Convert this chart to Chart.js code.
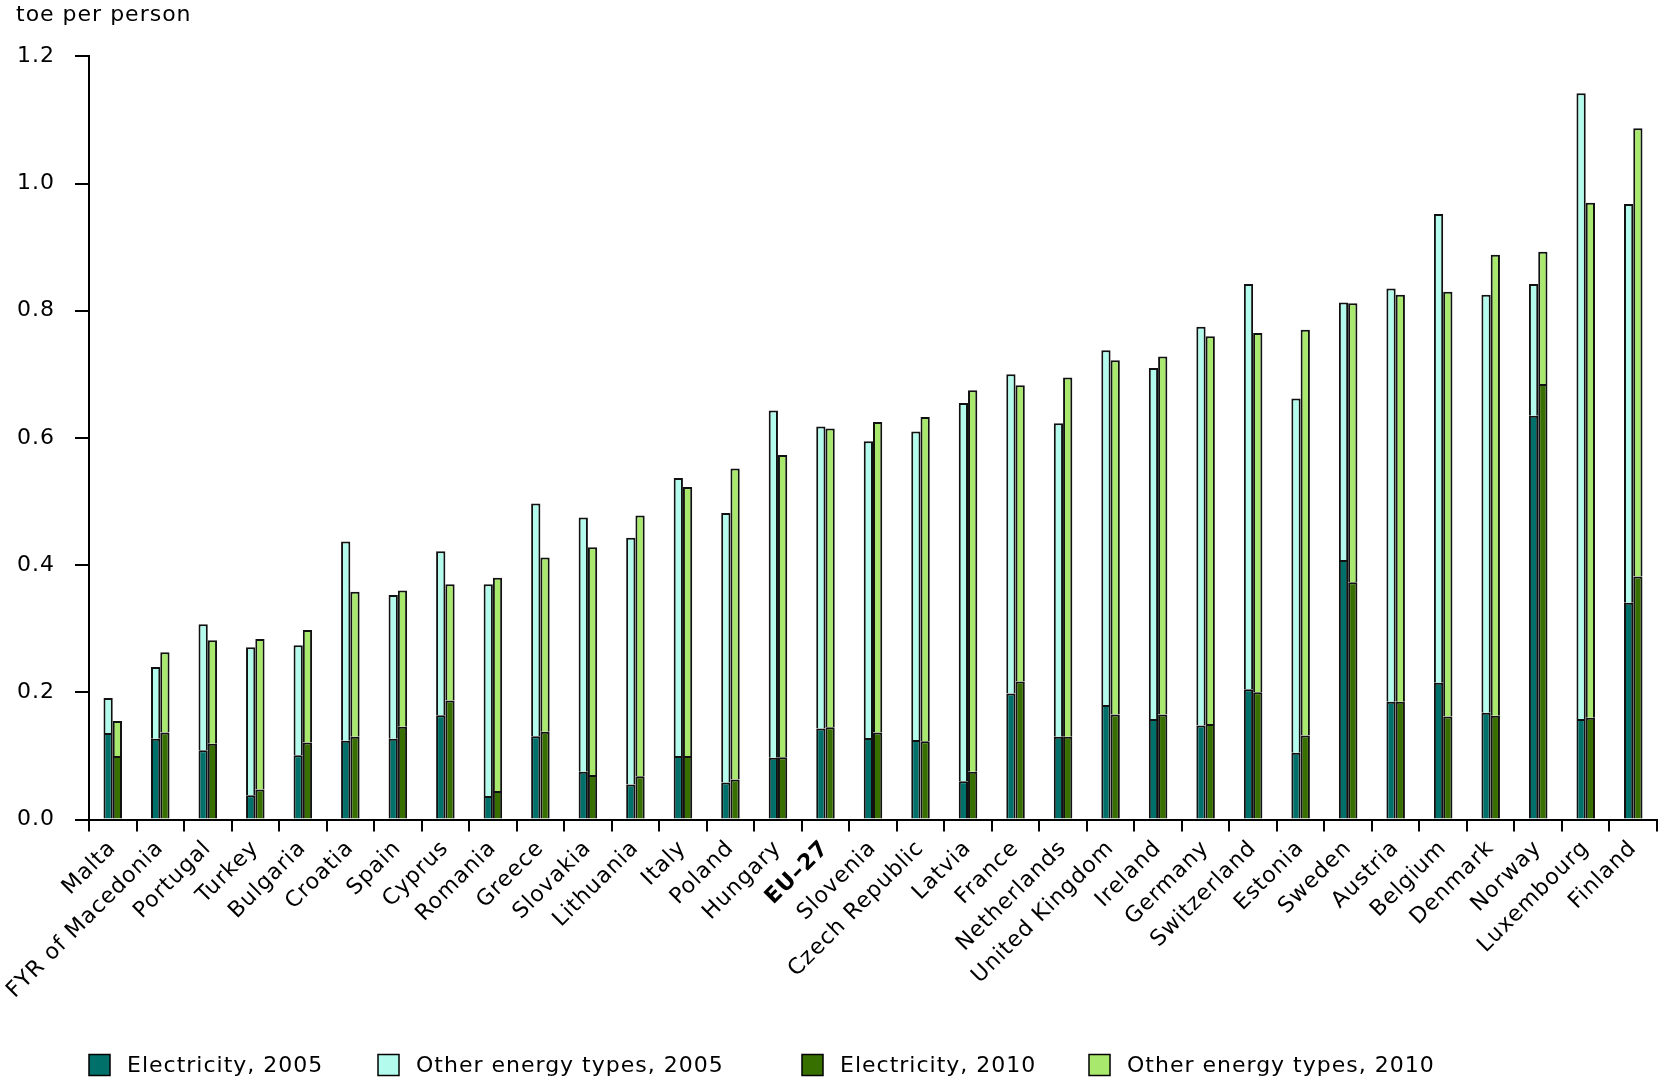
<!DOCTYPE html>
<html>
<head>
<meta charset="utf-8">
<title>Energy consumption per person</title>
<script src="https://cdn.jsdelivr.net/npm/chart.js@4.4.1/dist/chart.umd.min.js"></script>
<style>
  html, body { margin: 0; padding: 0; background: #fff; }
  #wrap { width: 1661px; height: 1080px; }
</style>
</head>
<body>
<div id="wrap"><canvas id="chart" width="1661" height="1080"></canvas></div>
<script>
// Values (toe per person)
const COUNTRIES = [
  'Malta', 'FYR of Macedonia', 'Portugal', 'Turkey', 'Bulgaria', 'Croatia', 'Spain',
  'Cyprus', 'Romania', 'Greece', 'Slovakia', 'Lithuania', 'Italy', 'Poland', 'Hungary',
  'EU\u201327', 'Slovenia', 'Czech Republic', 'Latvia', 'France', 'Netherlands',
  'United Kingdom', 'Ireland', 'Germany', 'Switzerland', 'Estonia', 'Sweden', 'Austria',
  'Belgium', 'Denmark', 'Norway', 'Luxembourg', 'Finland'
];

const ELECTRICITY_2005 = [
  0.136, 0.127, 0.109, 0.038, 0.101, 0.124, 0.127, 0.164, 0.037, 0.131, 0.075,
  0.055, 0.100, 0.058, 0.097, 0.143, 0.128, 0.125, 0.060, 0.198, 0.130, 0.180,
  0.158, 0.148, 0.205, 0.105, 0.408, 0.185, 0.215, 0.168, 0.635, 0.158, 0.341
];
const OTHER_2005 = [
  0.055, 0.113, 0.198, 0.233, 0.173, 0.313, 0.226, 0.258, 0.333, 0.366, 0.400,
  0.388, 0.437, 0.424, 0.546, 0.475, 0.467, 0.485, 0.595, 0.502, 0.493, 0.558,
  0.552, 0.627, 0.637, 0.557, 0.405, 0.650, 0.737, 0.657, 0.207, 0.984, 0.627
];
const ELECTRICITY_2010 = [
  0.100, 0.137, 0.119, 0.047, 0.121, 0.130, 0.146, 0.187, 0.045, 0.138, 0.070,
  0.068, 0.100, 0.063, 0.098, 0.145, 0.137, 0.123, 0.075, 0.217, 0.130, 0.165,
  0.165, 0.150, 0.200, 0.132, 0.373, 0.185, 0.162, 0.163, 0.685, 0.160, 0.382
];
const OTHER_2010 = [
  0.055, 0.126, 0.163, 0.237, 0.177, 0.228, 0.214, 0.183, 0.335, 0.274, 0.358,
  0.410, 0.423, 0.489, 0.475, 0.470, 0.488, 0.510, 0.600, 0.466, 0.565, 0.557,
  0.563, 0.610, 0.565, 0.638, 0.439, 0.640, 0.668, 0.725, 0.208, 0.810, 0.705
];

const FONT = '"DejaVu Sans", Verdana, sans-serif';
const BOLD_LABEL = 'EU\u201327';

// Canvas text in the reference is a touch wider than DejaVu Sans
const letterSpacing = {
  id: 'letterSpacing',
  beforeLayout(chart) { chart.ctx.letterSpacing = '1px'; },
  beforeDraw(chart) { chart.ctx.letterSpacing = '1px'; }
};

// Legend row along the bottom edge
const bottomLegend = {
  id: 'bottomLegend',
  afterDraw(chart, args, opts) {
    const ctx = chart.ctx;
    ctx.save();
    ctx.letterSpacing = '1px';
    ctx.font = '22px ' + FONT;
    ctx.textBaseline = 'middle';
    chart.data.datasets.forEach((ds, i) => {
      const x = opts.xs[i];
      const s = opts.box;
      ctx.fillStyle = ds.backgroundColor;
      ctx.fillRect(x, opts.y - s / 2, s, s);
      ctx.strokeStyle = '#000';
      ctx.lineWidth = 1.5;
      ctx.strokeRect(x, opts.y - s / 2, s, s);
      ctx.fillStyle = '#000';
      ctx.fillText(ds.label, x + s + 17, opts.y + 1);
    });
    ctx.restore();
  }
};

const CHART_AREA_BOTTOM = 819.5;
const BOTTOM_PAD = 50;

new Chart(document.getElementById('chart'), {
  type: 'bar',
  data: {
    labels: COUNTRIES,
    datasets: [
      { label: 'Electricity, 2005', data: ELECTRICITY_2005, stack: '2005', backgroundColor: '#00706a' },
      { label: 'Other energy types, 2005', data: OTHER_2005, stack: '2005', backgroundColor: '#b3fbec' },
      { label: 'Electricity, 2010', data: ELECTRICITY_2010, stack: '2010', backgroundColor: '#387000' },
      { label: 'Other energy types, 2010', data: OTHER_2010, stack: '2010', backgroundColor: '#a8e86c' }
    ]
  },
  options: {
    responsive: false,
    animation: false,
    layout: { padding: { left: 16, right: 4, top: 0, bottom: BOTTOM_PAD } },
    datasets: {
      bar: {
        borderColor: '#111',
        borderWidth: 2,
        categoryPercentage: 0.39,
        barPercentage: 1.0
      }
    },
    plugins: {
      legend: { display: false },
      tooltip: { enabled: false },
      title: {
        display: true,
        text: 'toe per person',
        align: 'start',
        color: '#000',
        font: { family: FONT, size: 22, weight: 'normal' },
        padding: { top: 2, bottom: 28 }
      },
      bottomLegend: { xs: [89, 378, 802, 1089], y: 1065, box: 21 }
    },
    scales: {
      x: {
        stacked: true,
        grid: {
          offset: true,
          drawOnChartArea: false,
          drawTicks: true,
          tickLength: 12,
          color: '#000',
          lineWidth: 2
        },
        border: { display: true, color: '#000', width: 2 },
        ticks: {
          autoSkip: false,
          minRotation: 45,
          maxRotation: 45,
          padding: 4,
          color: '#000',
          font: (ctx) => ({
            family: FONT,
            size: 22,
            weight: ctx.tick && ctx.tick.label === BOLD_LABEL ? 'bold' : 'normal'
          })
        },
        afterFit: (scale) => { scale.height = 1080 - BOTTOM_PAD - CHART_AREA_BOTTOM; }
      },
      y: {
        stacked: true,
        min: 0,
        max: 1.2,
        grid: {
          drawOnChartArea: false,
          drawTicks: true,
          tickLength: 14,
          color: '#000',
          lineWidth: 2
        },
        border: { display: true, color: '#000', width: 2 },
        ticks: {
          stepSize: 0.2,
          padding: 20,
          color: '#000',
          font: { family: FONT, size: 22 },
          callback: (v) => v.toFixed(1)
        },
        afterFit: (scale) => { scale.width = 73; }
      }
    }
  },
  plugins: [letterSpacing, bottomLegend]
});
</script>
</body>
</html>
